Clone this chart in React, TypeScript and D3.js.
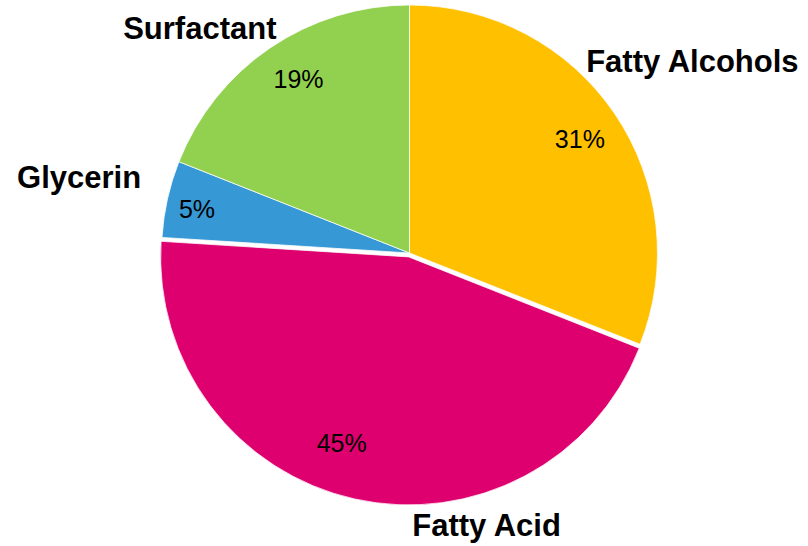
import React from "react";
import * as d3 from "d3";

const categories = ["Fatty Alcohols", "Fatty Acid", "Glycerin", "Surfactant"];
const values = [31, 45, 5, 19];
const colors = ["#FFC000", "#DE006F", "#3698D4", "#92D050"];

// label placement (polar: degrees clockwise from top, radius in px)
const nameAngles = [55.8, 164.2, 282.9, 317.1];
const nameRadii = [342, 283, 339, 308];
const pctAngles = [56.2, 199.6, 281.7, 327.4];
const pctRadii = [205, 202, 217, 206];
const explode = [0, 4, 0, 0];

const width = 808;
const height = 546;
const cx = 409.5;
const cy = 253;
const radius = 248;

export default function App() {
  const data = categories.map((c, i) => ({ name: c, value: values[i], i }));
  const pie = d3.pie<any>().sort(null).value((d) => d.value);
  const arcs = pie(data);
  const arc = d3.arc<any>().innerRadius(0).outerRadius(radius);
  const total = d3.sum(values);

  const polar = (deg: number, r: number) => {
    const a = (deg * Math.PI) / 180;
    return [Math.sin(a) * r, -Math.cos(a) * r];
  };

  return (
    <div style={{ position: "absolute", left: 0, top: 0 }}>
      <svg width={width} height={height} style={{ display: "block" }}>
        <g transform={`translate(${cx},${cy})`}>
          {arcs.map((a, i) => {
            const mid = (a.startAngle + a.endAngle) / 2;
            const ox = Math.sin(mid) * explode[i];
            const oy = -Math.cos(mid) * explode[i];
            return (
              <g key={i} transform={`translate(${ox},${oy})`}>
                <path
                  d={arc(a) as string}
                  fill={colors[i]}
                  stroke="#fff"
                  strokeWidth={0.75}
                />
              </g>
            );
          })}
          {arcs.map((a, i) => {
            const [x, y] = polar(pctAngles[i], pctRadii[i]);
            return (
              <text
                key={"p" + i}
                x={x}
                y={y}
                dy="0.36em"
                textAnchor="middle"
                fontFamily="Liberation Sans, Arial, sans-serif"
                fontSize={25}
                fill="#000"
              >
                {d3.format(".0%")(a.data.value / total)}
              </text>
            );
          })}
          {categories.map((c, i) => {
            const [x, y] = polar(nameAngles[i], nameRadii[i]);
            return (
              <text
                key={"n" + i}
                x={x}
                y={y}
                dy="0.36em"
                textAnchor="middle"
                fontFamily="Liberation Sans, Arial, sans-serif"
                fontWeight="bold"
                fontSize={31}
                fill="#000"
              >
                {c}
              </text>
            );
          })}
        </g>
      </svg>
    </div>
  );
}
